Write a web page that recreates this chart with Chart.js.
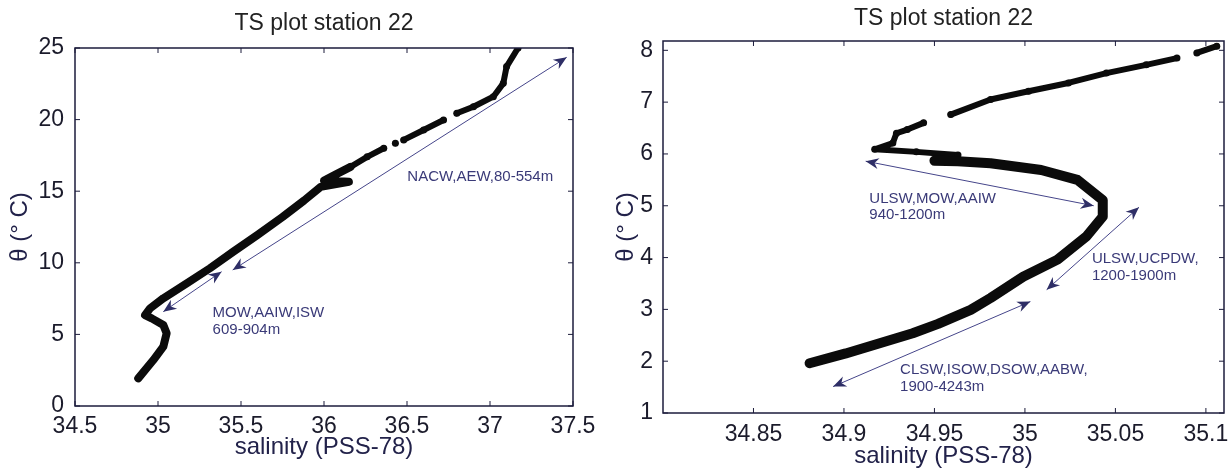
<!DOCTYPE html>
<html>
<head>
<meta charset="utf-8">
<script src="https://cdn.jsdelivr.net/npm/chart.js@4"></script>
<style>
  body { margin: 0; background: #fff; width: 1230px; height: 474px; overflow: hidden; position: relative; }
  .box { position: absolute; top: 0; height: 474px; }
  #left { left: 0; width: 605px; }
  #right { left: 605px; width: 625px; }
</style>
</head>
<body>
<div class="box" id="left"><canvas id="c1"></canvas></div>
<div class="box" id="right"><canvas id="c2"></canvas></div>
<script>
// ---- station 22, full profile (left panel) ----
const leftLowerSal  = [34.881, 34.972, 35.032, 35.052, 35.032, 34.962, 34.922, 34.952, 35.032, 35.173, 35.313, 35.454, 35.6, 35.75, 35.88, 35.98, 36.15, 36.0, 36.06, 36.16];
const leftLowerTemp = [1.93, 3.21, 4.14, 5.08, 5.66, 6.12, 6.35, 6.82, 7.52, 8.57, 9.62, 10.78, 11.95, 13.2, 14.35, 15.3, 15.66, 15.75, 16.1, 16.7];
const leftUpperSal  = [36.16, 36.26, 36.36, null, 36.43, null, 36.48, 36.6, 36.72, null, 36.8, 36.9, 37.02, 37.08, 37.1, 37.169];
const leftUpperTemp = [16.7, 17.4, 18.0, null, 18.34, null, 18.58, 19.27, 19.97, null, 20.44, 20.9, 21.6, 22.53, 23.7, 25.0];
const leftXTicks = [34.5, 35, 35.5, 36, 36.5, 37, 37.5];
const leftYTicks = [0, 5, 10, 15, 20, 25];
// arrows: [sal0, temp0, sal1, temp1]
const leftArrows = [[35.45, 9.5, 37.462, 24.35], [35.032, 6.59, 35.383, 9.38]];
const leftLabels = [['NACW,AEW,80-554m', 36.502, 16.0], ['MOW,AAIW,ISW', 35.329, 6.47], ['609-904m', 35.329, 5.3]];

// ---- station 22, deep zoom (right panel) ----
const rightLowerSal  = [34.881, 34.901, 34.938, 34.952, 34.97, 34.981, 34.999, 35.018, 35.034, 35.043, 35.043, 35.029, 35.009, 34.981, 34.963, 34.95];
const rightLowerTemp = [1.96, 2.15, 2.54, 2.72, 2.99, 3.22, 3.63, 3.96, 4.41, 4.79, 5.11, 5.5, 5.69, 5.82, 5.86, 5.87];
const rightUpperSal  = [34.95, 34.963, 34.94, 34.917, 34.927, 34.929, 34.935, 34.944, null, 34.959, 34.981, 35.002, 35.024, 35.045, 35.067, 35.084, null, 35.095, 35.106];
const rightUpperTemp = [5.87, 5.98, 6.04, 6.09, 6.21, 6.4, 6.47, 6.6, null, 6.76, 7.05, 7.21, 7.37, 7.56, 7.72, 7.85, null, 7.95, 8.08];
const rightXTicks = [34.85, 34.9, 34.95, 35, 35.05, 35.1];
const rightYTicks = [1, 2, 3, 4, 5, 6, 7, 8];
const rightArrows = [[34.912, 5.86, 35.038, 5.0], [35.063, 4.97, 35.012, 3.38], [35.003, 3.15, 34.894, 1.51]];
const rightLabels = [['ULSW,MOW,AAIW', 34.914, 5.13], ['940-1200m', 34.914, 4.83],
                     ['ULSW,UCPDW,', 35.037, 3.97], ['1200-1900m', 35.037, 3.65],
                     ['CLSW,ISOW,DSOW,AABW,', 34.931, 1.83], ['1900-4243m', 34.931, 1.5]];

const FONT = '"Liberation Sans", Arial, Helvetica, sans-serif';

function toPoints(sal, temp) {
    return sal.map((s, i) => ({ x: s, y: temp[i] }));
}

function arrowHead(ctx, x0, y0, x1, y1) {
    const a = Math.atan2(y1 - y0, x1 - x0);
    const c = Math.cos(a), s = Math.sin(a);
    const L = 13, W = 5.5, N = 9;
    ctx.beginPath();
    ctx.moveTo(x1, y1);
    ctx.lineTo(x1 - L * c + W * s, y1 - L * s - W * c);
    ctx.lineTo(x1 - N * c, y1 - N * s);
    ctx.lineTo(x1 - L * c - W * s, y1 - L * s + W * c);
    ctx.closePath();
    ctx.fill();
}

// box, inward ticks, arrows and the water mass labels
function makeDecor(arrows, labels) {
    return {
        id: 'decor',
        afterDatasetsDraw(chart) {
            const { ctx, chartArea: a, scales: { x, y } } = chart;
            ctx.save();
            ctx.strokeStyle = '#1c1c3c';
            ctx.lineWidth = 1.5;
            ctx.strokeRect(a.left, a.top, a.right - a.left, a.bottom - a.top);
            ctx.lineWidth = 1;
            ctx.beginPath();
            x.ticks.forEach(t => {
                const px = x.getPixelForValue(t.value);
                ctx.moveTo(px, a.bottom); ctx.lineTo(px, a.bottom - 5);
                ctx.moveTo(px, a.top); ctx.lineTo(px, a.top + 5);
            });
            y.ticks.forEach(t => {
                const py = y.getPixelForValue(t.value);
                ctx.moveTo(a.left, py); ctx.lineTo(a.left + 5, py);
                ctx.moveTo(a.right, py); ctx.lineTo(a.right - 5, py);
            });
            ctx.stroke();

            ctx.strokeStyle = '#45458a';
            ctx.fillStyle = '#2e2e66';
            ctx.lineWidth = 1;
            arrows.forEach(ar => {
                const x0 = x.getPixelForValue(ar[0]), y0 = y.getPixelForValue(ar[1]);
                const x1 = x.getPixelForValue(ar[2]), y1 = y.getPixelForValue(ar[3]);
                ctx.beginPath();
                ctx.moveTo(x0, y0); ctx.lineTo(x1, y1);
                ctx.stroke();
                arrowHead(ctx, x0, y0, x1, y1);
                arrowHead(ctx, x1, y1, x0, y0);
            });

            ctx.fillStyle = '#3a3a78';
            ctx.font = '15px ' + FONT;
            ctx.textAlign = 'left';
            ctx.textBaseline = 'middle';
            labels.forEach(l => {
                ctx.fillText(l[0], x.getPixelForValue(l[1]), y.getPixelForValue(l[2]));
            });
            ctx.restore();
        }
    };
}

function makeChart(canvas, lower, upper, lowerWidth, upperWidth, xr, yr, ticksX, ticksY, lay) {
    return new Chart(canvas, {
        type: 'scatter',
        data: {
            datasets: [
                { data: lower, showLine: true, borderColor: '#0b0b0b', backgroundColor: '#0b0b0b',
                  borderWidth: lowerWidth, pointRadius: 0, borderJoinStyle: 'round', borderCapStyle: 'round' },
                { data: upper, showLine: true, spanGaps: false, borderColor: '#0b0b0b', backgroundColor: '#0b0b0b',
                  borderWidth: upperWidth, pointRadius: upperWidth / 2 + 0.5, pointBorderWidth: 0,
                  borderJoinStyle: 'round', borderCapStyle: 'round' }
            ]
        },
        options: {
            responsive: true,
            maintainAspectRatio: false,
            animation: false,
            layout: { padding: { left: 0, right: lay.padRight, top: 0, bottom: 0 } },
            plugins: {
                legend: { display: false },
                tooltip: { enabled: false },
                title: {
                    display: true, text: 'TS plot station 22', fullSize: false,
                    color: '#222', font: { family: FONT, size: 23, weight: 'normal' },
                    padding: { top: lay.titleTop, bottom: lay.titleBottom }
                }
            },
            scales: {
                x: {
                    type: 'linear', min: xr[0], max: xr[1],
                    grid: { display: false }, border: { display: false },
                    afterBuildTicks: s => { s.ticks = ticksX.map(v => ({ value: v })); },
                    afterFit: s => { s.height = lay.xHeight; },
                    ticks: { color: '#1b1b2b', font: { family: FONT, size: 23 }, padding: lay.xTickPad,
                             maxRotation: 0, autoSkip: false, callback: v => String(v) },
                    title: { display: true, text: 'salinity (PSS-78)', color: '#22224a',
                             font: { family: FONT, size: 24 }, padding: { top: 0, bottom: lay.xTitlePad } }
                },
                y: {
                    type: 'linear', min: yr[0], max: yr[1],
                    grid: { display: false }, border: { display: false },
                    afterBuildTicks: s => { s.ticks = ticksY.map(v => ({ value: v })); },
                    afterFit: s => { s.width = lay.yWidth; },
                    ticks: { color: '#1b1b2b', font: { family: FONT, size: 23 }, padding: lay.yTickPad,
                             autoSkip: false, callback: v => String(v) },
                    title: { display: true, text: 'θ (° C)', color: '#22224a',
                             font: { family: FONT, size: 24, lineHeight: 1 }, padding: { top: lay.yTitlePad, bottom: 0 } }
                }
            }
        },
        plugins: [makeDecor(lay.arrows, lay.labels)]
    });
}

makeChart(document.getElementById('c1'),
    toPoints(leftLowerSal, leftLowerTemp), toPoints(leftUpperSal, leftUpperTemp), 8, 6,
    [34.5, 37.5], [0, 25], leftXTicks, leftYTicks,
    { padRight: 32, titleTop: 10, titleBottom: 10.4, xHeight: 68, xTickPad: -1, xTitlePad: 12,
      yWidth: 75, yTickPad: 3, yTitlePad: 8, arrows: leftArrows, labels: leftLabels });

makeChart(document.getElementById('c2'),
    toPoints(rightLowerSal, rightLowerTemp), toPoints(rightUpperSal, rightUpperTemp), 10, 6,
    [34.8, 35.11], [1, 8.18], rightXTicks, rightYTicks,
    { padRight: 6, titleTop: 4.7, titleBottom: 8.7, xHeight: 61, xTickPad: 0, xTitlePad: 3,
      yWidth: 58, yTickPad: 2, yTitlePad: 9, arrows: rightArrows, labels: rightLabels });
</script>
</body>
</html>
